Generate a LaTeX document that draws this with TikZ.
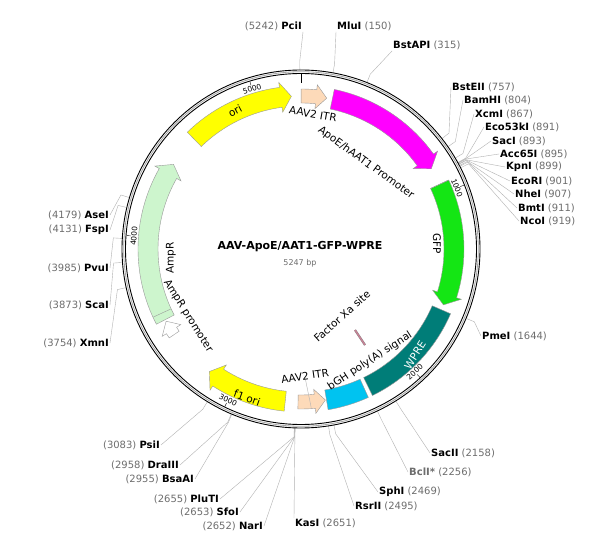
\documentclass[tikz,border=0pt]{standalone}
\usepackage{fontspec}
\setmainfont{DejaVu Sans}
\usetikzlibrary{arrows,shapes,positioning}

\definecolor{numgray}{RGB}{110,110,110}
\definecolor{peach}{RGB}{253,218,185}
\definecolor{pmagenta}{RGB}{255,0,255}
\definecolor{gfpgreen}{RGB}{20,230,20}
\definecolor{wpreteal}{RGB}{0,125,120}
\definecolor{bghcyan}{RGB}{0,195,240}
\definecolor{amplight}{RGB}{205,245,205}
\definecolor{oriyellow}{RGB}{255,255,0}
\definecolor{xarose}{RGB}{200,130,150}

\tikzset{feat/.style={draw=gray!80,line width=0.4pt},
         site/.style={font=\fontsize{10}{11}\selectfont,inner sep=1pt},
         leader/.style={draw=gray!60,line width=0.4pt},
         flabel/.style={font=\fontsize{10.5}{12}\selectfont,inner sep=0pt},
         ticklabel/.style={font=\fontsize{7.5}{8}\selectfont,inner sep=0pt}}

% clockwise arrow: start bp, end bp, colour, half width, head half width
\newcommand{\cwarrow}[5]{%
 \pgfmathsetmacro{\aS}{#1*0.068611-90}
 \pgfmathsetmacro{\aE}{#2*0.068611-90}
 \pgfmathsetmacro{\aH}{\aE-4}
 \filldraw[feat,fill=#3] (\aS:{153+#4}) arc[start angle=\aS,end angle=\aH,radius={153+#4}]
   -- (\aH:{153+#5}) -- (\aE:153) -- (\aH:{153-#5}) -- (\aH:{153-#4})
   arc[start angle=\aH,end angle=\aS,radius={153-#4}] -- cycle;}
% counter-clockwise arrow: tip bp, tail bp
\newcommand{\ccwarrow}[5]{%
 \pgfmathsetmacro{\aS}{#1*0.068611-90}
 \pgfmathsetmacro{\aE}{#2*0.068611-90}
 \pgfmathsetmacro{\aH}{\aS+4}
 \filldraw[feat,fill=#3] (\aE:{153+#4}) arc[start angle=\aE,end angle=\aH,radius={153+#4}]
   -- (\aH:{153+#5}) -- (\aS:153) -- (\aH:{153-#5}) -- (\aH:{153-#4})
   arc[start angle=\aH,end angle=\aE,radius={153-#4}] -- cycle;}
% plain box
\newcommand{\featbox}[3]{%
 \pgfmathsetmacro{\aS}{#1*0.068611-90}
 \pgfmathsetmacro{\aE}{#2*0.068611-90}
 \filldraw[feat,fill=#3] (\aS:163) arc[start angle=\aS,end angle=\aE,radius=163]
   -- (\aE:143) arc[start angle=\aE,end angle=\aS,radius=143] -- cycle;}
% site: name, bp, anchor, position, text
\newcommand{\site}[5]{%
 \coordinate (#1r) at ([shift={(#2*0.068611-90:179)}]c);
 \coordinate (#1k) at ([shift={(#2*0.068611-90:188)}]c);
 \node[site,anchor=#3] (#1) at (#4) {#5};
 \draw[leader] (#1r) -- (#1k) -- (#1.#3);}
\newcommand{\rt}[2]{\textbf{#1} \textcolor{numgray}{(#2)}}
\newcommand{\lt}[2]{\textcolor{numgray}{(#2)} \textbf{#1}}

\begin{document}
\begin{tikzpicture}[x=1pt,y=-1pt]
\useasboundingbox[fill=white] (0,0) rectangle (600,537);
\coordinate (c) at (301,249);

% sites
\site{pci}{5242}{south east}{303,32}{\lt{PciI}{5242}}
\site{mlu}{150}{south west}{336,32}{\rt{MluI}{150}}
\site{bstapi}{315}{south west}{392,51}{\rt{BstAPI}{315}}
\site{bsteii}{757}{west}{451,87}{\rt{BstEII}{757}}
\site{bamhi}{804}{west}{463,100}{\rt{BamHI}{804}}
\site{xcmi}{867}{west}{474,114}{\rt{XcmI}{867}}
\site{ecofiftythree}{891}{west}{484,127}{\rt{Eco53kI}{891}}
\site{saci}{893}{west}{491,141}{\rt{SacI}{893}}
\site{acc}{895}{west}{499,154}{\rt{Acc65I}{895}}
\site{kpni}{899}{west}{505,167}{\rt{KpnI}{899}}
\site{ecori}{901}{west}{510,181}{\rt{EcoRI}{901}}
\site{nhei}{907}{west}{514,194}{\rt{NheI}{907}}
\site{bmti}{911}{west}{517,208}{\rt{BmtI}{911}}
\site{ncoi}{919}{west}{519,221}{\rt{NcoI}{919}}
\site{pmei}{1644}{west}{481,336}{\rt{PmeI}{1644}}
\site{sacii}{2158}{west}{430,453}{\rt{SacII}{2158}}
\site{bcli}{2256}{west}{408,472}{\textcolor{numgray}{\textbf{BclI*}} \textcolor{numgray}{(2256)}}
\site{sphi}{2469}{west}{378,492}{\rt{SphI}{2469}}
\site{rsrii}{2495}{west}{354,506}{\rt{RsrII}{2495}}
\site{kasi}{2651}{north west}{294,518}{\rt{KasI}{2651}}
\site{nari}{2652}{east}{264,526}{\lt{NarI}{2652}}
\site{sfoi}{2653}{east}{240,512}{\lt{SfoI}{2653}}
\site{pluti}{2655}{east}{220,499}{\lt{PluTI}{2655}}
\site{bsaai}{2955}{east}{195,479}{\lt{BsaAI}{2955}}
\site{draiii}{2958}{east}{180,465}{\lt{DraIII}{2958}}
\site{psii}{3083}{east}{161,445}{\lt{PsiI}{3083}}
\site{xmni}{3754}{east}{110,343}{\lt{XmnI}{3754}}
\site{scai}{3873}{east}{110,305}{\lt{ScaI}{3873}}
\site{pvui}{3985}{east}{110,268}{\lt{PvuI}{3985}}
\site{fspi}{4131}{east}{110,230}{\lt{FspI}{4131}}
\site{asei}{4179}{east}{110,215}{\lt{AseI}{4179}}

\begin{scope}[shift={(301,249)}]
% backbone
\draw[line width=0.9pt] (0,0) circle[radius=179];
\draw[line width=0.9pt] (0,0) circle[radius=175.5];
\draw[gray!70,line width=0.8pt] (0,0) circle[radius=177.3];
\draw[line width=1pt] (-90:175) -- (-90:166);
% ticks
\foreach \bp/\rot in {1000/-68.6,2000/43,3000/-26,4000/85.6,5000/17}{
  \pgfmathsetmacro{\ta}{\bp*0.068611-90}
  \draw[line width=0.4pt] (\ta:175) -- (\ta:171);
  \node[ticklabel,rotate=\rot] at (\ta:167.5) {\bp};
}
% features
\cwarrow{1}{141}{peach}{7}{12}
\cwarrow{172}{851}{pmagenta}{10}{15}
\cwarrow{947}{1624}{gfpgreen}{10}{15}
\draw[feat,fill=gray!40] ({947*0.068611-90}:163) -- ({947*0.068611-90}:143);
\featbox{1653}{2245}{wpreteal}
\featbox{2268}{2484}{bghcyan}
\ccwarrow{2490}{2640}{peach}{7}{12}
\cwarrow{2710}{3160}{oriyellow}{10}{15}
\cwarrow{3440}{3525}{white}{6}{11}
\cwarrow{3535}{4425}{amplight}{10}{15}
\draw[feat] ({3575*0.068611-90}:163) -- ({3575*0.068611-90}:143);
\cwarrow{4603}{5195}{oriyellow}{10}{15}
\end{scope}

% Factor Xa site
\draw[gray,line width=2.2pt] (355,330) -- (365,345);
\draw[xarose,line width=1.4pt] (355,330) -- (365,345);

% feature labels
\node[flabel,rotate=28] (orilab) at (235,111) {ori};
\node[flabel,rotate=-10] (itrtop) at (313,114) {AAV2 ITR};
\node[flabel,rotate=-36] (apoelab) at (366,163) {ApoE/hAAT1 Promoter};
\node[flabel,rotate=-90] (gfplab) at (437,244) {GFP};
\node[flabel,rotate=58,white] (wprelab) at (415,355) {WPRE};
\node[flabel,rotate=33] (bghlab) at (370,361) {bGH poly(A) signal};
\node[flabel,rotate=8] (itrbot) at (305,376) {AAV2 ITR};
\node[flabel,rotate=42] (xalab) at (342,316) {Factor Xa site};
\node[flabel,rotate=-20] (f1lab) at (247,398) {f1 ori};
\node[flabel,rotate=-58] (amppromlab) at (188,316) {AmpR promoter};
\node[flabel,rotate=90] (amplab) at (171,258) {AmpR};
\draw[leader] (itrbot.south) -- ([shift={(2570*0.068611-90:159)}]c);

% title
\node[font=\bfseries\fontsize{11}{12}\selectfont] (title) at (300,247) {AAV-ApoE/AAT1-GFP-WPRE};
\node[font=\fontsize{8}{9}\selectfont,text=numgray,below=0pt of title] (bp) {5247 bp};
\end{tikzpicture}
\end{document}
